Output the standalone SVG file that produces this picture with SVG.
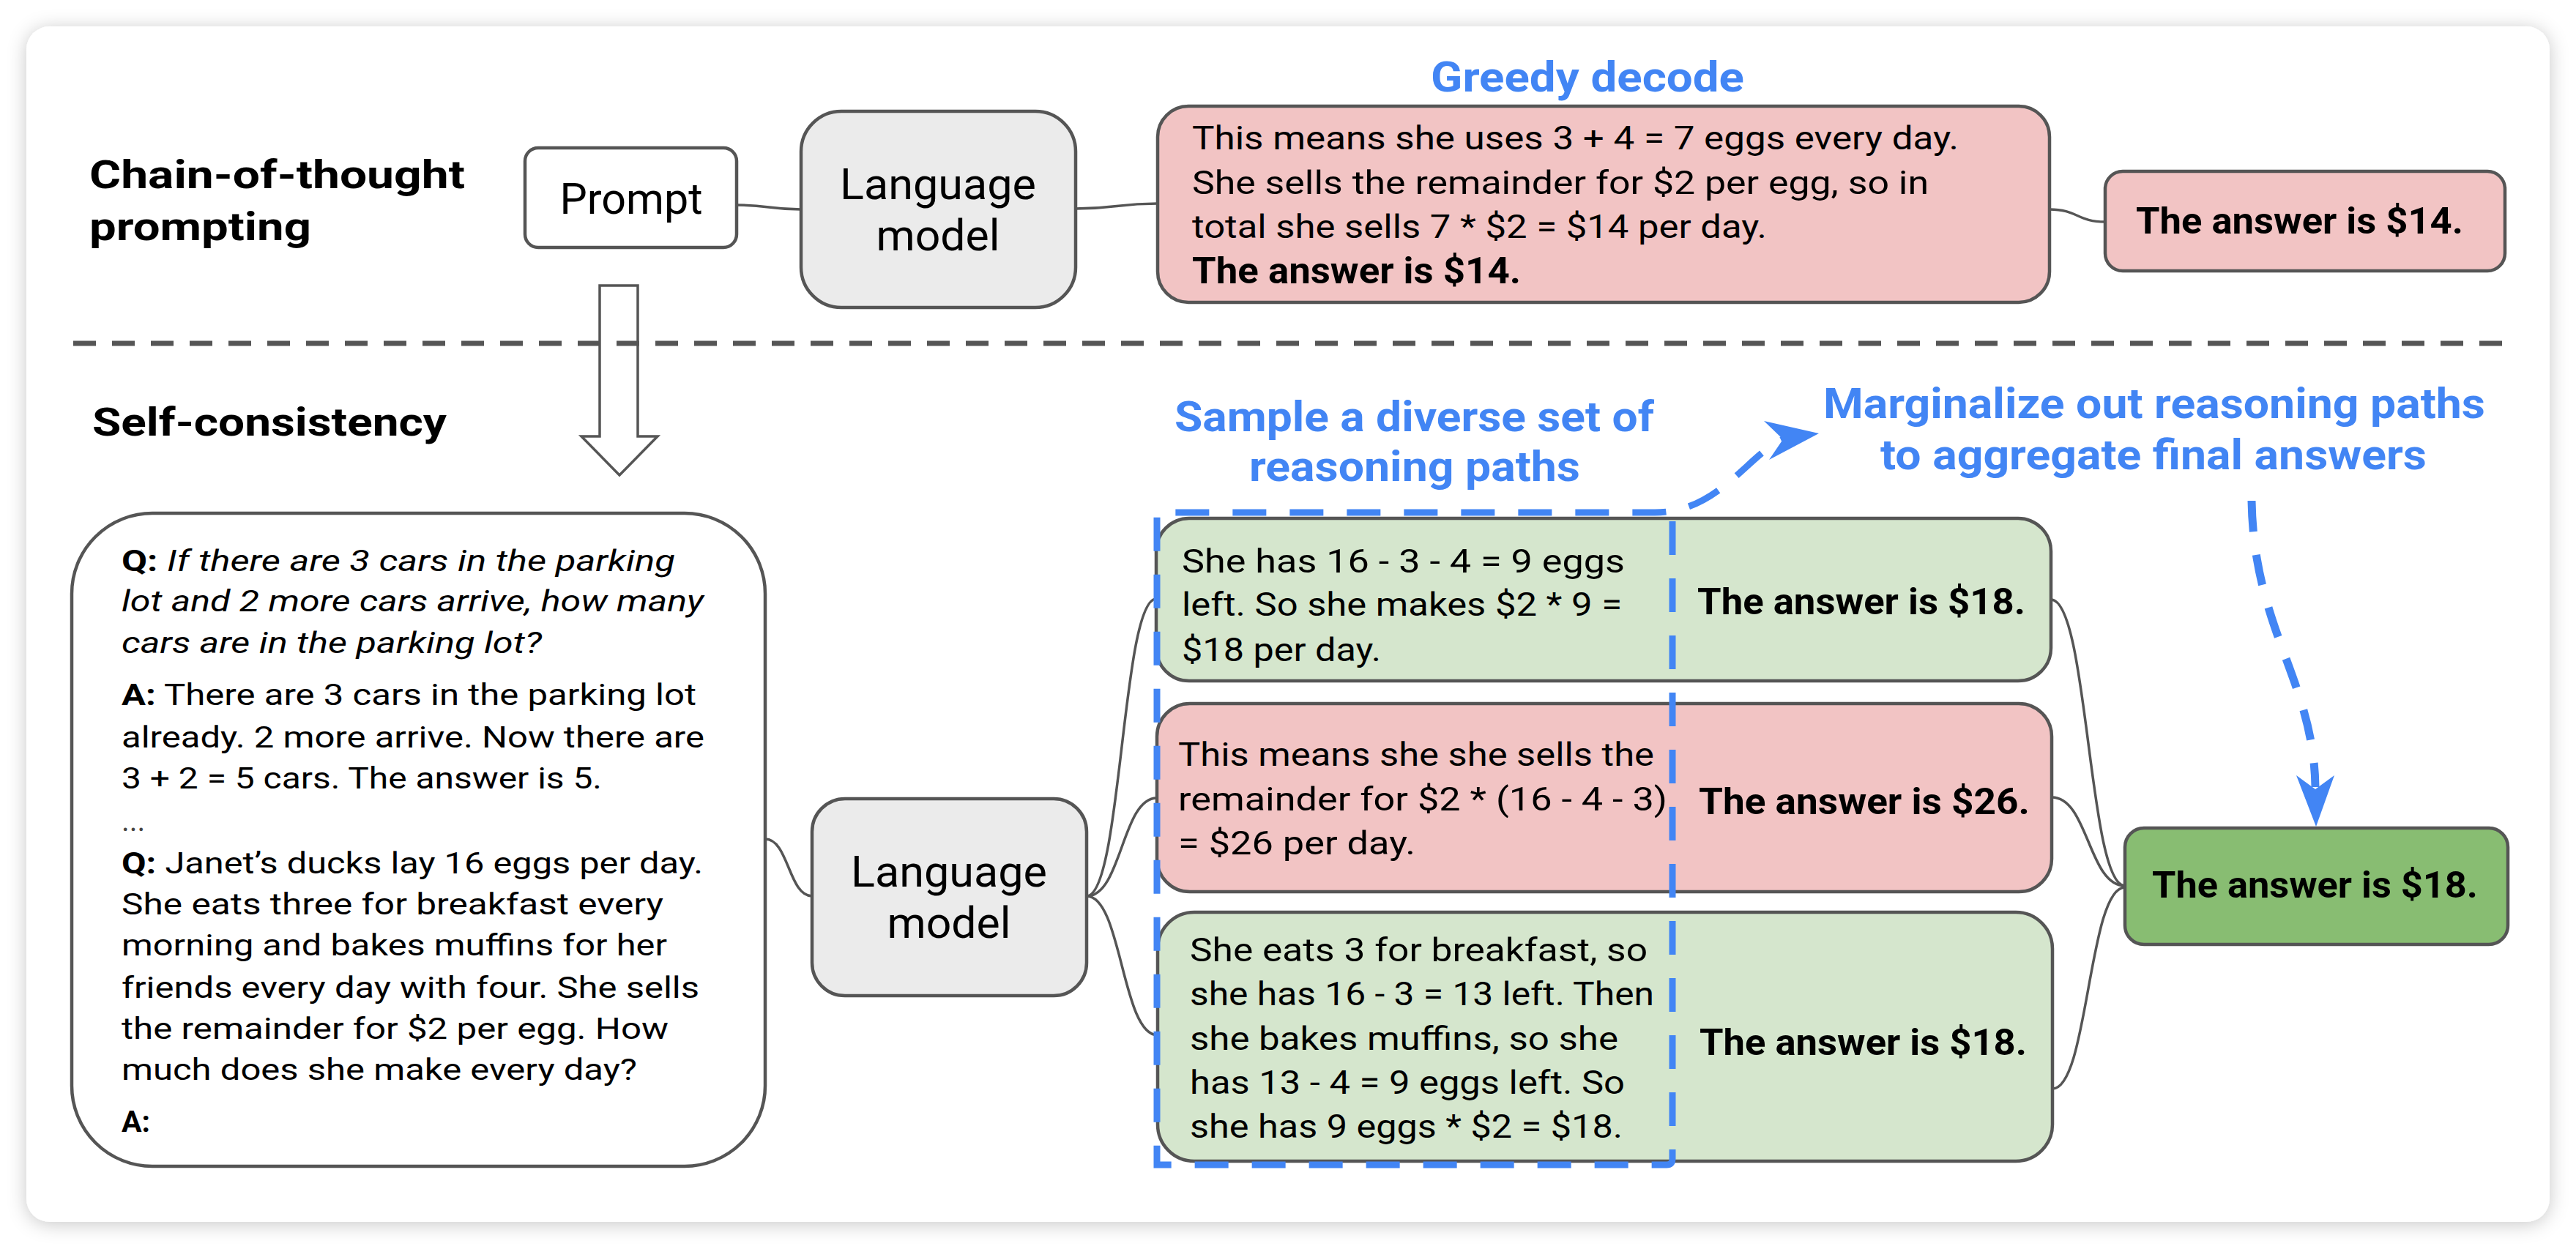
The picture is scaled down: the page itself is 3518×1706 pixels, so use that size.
<svg xmlns="http://www.w3.org/2000/svg" width="3518" height="1706" viewBox="0 0 3518 1706">
<defs>
<filter id="sh" x="-3%" y="-5%" width="106%" height="110%">
<feDropShadow dx="0" dy="3" stdDeviation="13" flood-color="#000" flood-opacity="0.22"/>
</filter>
<style>
text{font-family:Roboto,"Liberation Sans",sans-serif;fill:#000;}
.box{stroke:#555;stroke-width:4.5;}
.pink{fill:#F2C4C4;}
.green{fill:#D5E6CD;}
.gray{fill:#EBEBEB;}
.white{fill:#fff;}
.dgreen{fill:#88BD72;}
.t45{font-size:45px;}
.t41{font-size:41px;}
.ans{font-size:50px;font-weight:700;}
.b{font-weight:700;}
.i{font-style:italic;}
.head{font-size:53px;font-weight:700;}
.blue{font-size:57px;font-weight:700;fill:#4285F4;}
.lm{font-size:59px;text-anchor:middle;}
.conn{fill:none;stroke:#555;stroke-width:3.5;}
.bdash{fill:none;stroke:#4285F4;stroke-width:9;stroke-dasharray:46 32;}
.bhead{fill:#4285F4;}
</style>
</defs>
<rect x="0" y="0" width="3518" height="1706" fill="#fff"/>
<rect x="36" y="36" width="3446" height="1633" rx="32" fill="#fff" filter="url(#sh)"/>

<g id="titles">
<text class="head" x="122" y="257" textLength="513" lengthAdjust="spacingAndGlyphs">Chain-of-thought</text>
<text class="head" x="122" y="328" textLength="303" lengthAdjust="spacingAndGlyphs">prompting</text>
<text class="head" x="126" y="595" textLength="484" lengthAdjust="spacingAndGlyphs">Self-consistency</text>
</g>

<g id="big-arrow">
<polygon points="819,390 871,390 871,596 898,596 846,649 794,596 819,596" fill="#fff" stroke="#555" stroke-width="3.5" stroke-linejoin="miter"/>
</g>

<g id="separator">
<line x1="100" y1="469" x2="3418" y2="469" stroke="#555" stroke-width="7" stroke-dasharray="31 22"/>
</g>

<g id="connectors">
<path class="conn" d="M1006,280 C1050,280 1050,286 1094,286"/>
<path class="conn" d="M1469,285 C1525,285 1525,278 1581,278"/>
<path class="conn" d="M2799,286 C2837,286 2837,303 2875,303"/>
<path class="conn" d="M1045,1146 C1077,1146 1077,1224 1109,1224"/>
<path class="conn" d="M1484,1224 C1532,1224 1532,818 1579,818"/>
<path class="conn" d="M1484,1224 C1532,1224 1532,1090 1580,1090"/>
<path class="conn" d="M1484,1224 C1532,1224 1532,1414 1581,1414"/>
<path class="conn" d="M2801,819 C2852,819 2852,1210 2902,1210"/>
<path class="conn" d="M2802,1089 C2852,1089 2852,1210 2902,1210"/>
<path class="conn" d="M2803,1487 C2852,1487 2852,1212 2902,1212"/>
</g>

<g id="prompt">
<rect class="box white" x="717" y="202" width="289" height="136" rx="18"/>
<text class="lm" x="862" y="292" textLength="195" lengthAdjust="spacingAndGlyphs">Prompt</text>
</g>

<g id="lm-top">
<rect class="box gray" x="1094" y="152" width="375" height="268" rx="55"/>
<text class="lm" x="1281" y="272" textLength="268" lengthAdjust="spacingAndGlyphs">Language</text>
<text class="lm" x="1281" y="342" textLength="169" lengthAdjust="spacingAndGlyphs">model</text>
</g>

<g id="greedy-label">
<text class="blue" x="1954" y="125" textLength="428" lengthAdjust="spacingAndGlyphs">Greedy decode</text>
</g>

<g id="greedy-path">
<rect class="box pink" x="1581" y="145" width="1218" height="268" rx="42"/>
<text class="t45" x="1628" y="204" textLength="1047" lengthAdjust="spacingAndGlyphs">This means she uses 3 + 4 = 7 eggs every day.</text>
<text class="t45" x="1628" y="265" textLength="1006" lengthAdjust="spacingAndGlyphs">She sells the remainder for $2 per egg, so in</text>
<text class="t45" x="1628" y="325" textLength="785" lengthAdjust="spacingAndGlyphs">total she sells 7 * $2 = $14 per day.</text>
<text class="ans" x="1628" y="387" textLength="449" lengthAdjust="spacingAndGlyphs">The answer is $14.</text>
</g>

<g id="greedy-answer">
<rect class="box pink" x="2875" y="234" width="546" height="136" rx="24"/>
<text class="ans" x="2917" y="319" textLength="447" lengthAdjust="spacingAndGlyphs">The answer is $14.</text>
</g>

<g id="question">
<rect class="box white" x="98" y="701" width="947" height="892" rx="110"/>
<text class="t41" x="166" y="780" textLength="756" lengthAdjust="spacingAndGlyphs"><tspan class="b">Q:</tspan> <tspan class="i">If there are 3 cars in the parking</tspan></text>
<text class="t41 i" x="166" y="835" textLength="795" lengthAdjust="spacingAndGlyphs">lot and 2 more cars arrive, how many</text>
<text class="t41 i" x="166" y="892" textLength="574" lengthAdjust="spacingAndGlyphs">cars are in the parking lot?</text>
<text class="t41" x="166" y="963" textLength="785" lengthAdjust="spacingAndGlyphs"><tspan class="b">A:</tspan> There are 3 cars in the parking lot</text>
<text class="t41" x="166" y="1021" textLength="796" lengthAdjust="spacingAndGlyphs">already. 2 more arrive. Now there are</text>
<text class="t41" x="166" y="1077" textLength="656" lengthAdjust="spacingAndGlyphs">3 + 2 = 5 cars. The answer is 5.</text>
<text class="t41" x="166" y="1135" style="fill:#444">...</text>
<text class="t41" x="166" y="1193" textLength="794" lengthAdjust="spacingAndGlyphs"><tspan class="b">Q:</tspan> Janet’s ducks lay 16 eggs per day.</text>
<text class="t41" x="166" y="1249" textLength="740" lengthAdjust="spacingAndGlyphs">She eats three for breakfast every</text>
<text class="t41" x="166" y="1305" textLength="745" lengthAdjust="spacingAndGlyphs">morning and bakes muffins for her</text>
<text class="t41" x="166" y="1363" textLength="789" lengthAdjust="spacingAndGlyphs">friends every day with four. She sells</text>
<text class="t41" x="166" y="1419" textLength="747" lengthAdjust="spacingAndGlyphs">the remainder for $2 per egg. How</text>
<text class="t41" x="166" y="1475" textLength="704" lengthAdjust="spacingAndGlyphs">much does she make every day?</text>
<text class="t41 b" x="166" y="1546">A:</text>
</g>

<g id="lm-bottom">
<rect class="box gray" x="1109" y="1091" width="375" height="269" rx="45"/>
<text class="lm" x="1296" y="1211" textLength="268" lengthAdjust="spacingAndGlyphs">Language</text>
<text class="lm" x="1296" y="1281" textLength="169" lengthAdjust="spacingAndGlyphs">model</text>
</g>

<g id="path-a">
<rect class="box green" x="1579" y="708" width="1222" height="222" rx="45"/>
<text class="t45" x="1614" y="782" textLength="605" lengthAdjust="spacingAndGlyphs">She has 16 - 3 - 4 = 9 eggs</text>
<text class="t45" x="1614" y="841" textLength="601" lengthAdjust="spacingAndGlyphs">left. So she makes $2 * 9 =</text>
<text class="t45" x="1614" y="903" textLength="272" lengthAdjust="spacingAndGlyphs">$18 per day.</text>
<text class="ans" x="2318" y="839" textLength="448" lengthAdjust="spacingAndGlyphs">The answer is $18.</text>
</g>

<g id="path-b">
<rect class="box pink" x="1580" y="961" width="1222" height="257" rx="45"/>
<text class="t45" x="1609" y="1046" textLength="650" lengthAdjust="spacingAndGlyphs">This means she she sells the</text>
<text class="t45" x="1609" y="1107" textLength="668" lengthAdjust="spacingAndGlyphs">remainder for $2 * (16 - 4 - 3)</text>
<text class="t45" x="1609" y="1167" textLength="324" lengthAdjust="spacingAndGlyphs">= $26 per day.</text>
<text class="ans" x="2320" y="1112" textLength="452" lengthAdjust="spacingAndGlyphs">The answer is $26.</text>
</g>

<g id="path-c">
<rect class="box green" x="1581" y="1246" width="1222" height="340" rx="50"/>
<text class="t45" x="1625" y="1313" textLength="625" lengthAdjust="spacingAndGlyphs">She eats 3 for breakfast, so</text>
<text class="t45" x="1625" y="1373" textLength="634" lengthAdjust="spacingAndGlyphs">she has 16 - 3 = 13 left. Then</text>
<text class="t45" x="1625" y="1434" textLength="585" lengthAdjust="spacingAndGlyphs">she bakes muffins, so she</text>
<text class="t45" x="1625" y="1494" textLength="594" lengthAdjust="spacingAndGlyphs">has 13 - 4 = 9 eggs left. So</text>
<text class="t45" x="1625" y="1554" textLength="591" lengthAdjust="spacingAndGlyphs">she has 9 eggs * $2 = $18.</text>
<text class="ans" x="2321" y="1441" textLength="447" lengthAdjust="spacingAndGlyphs">The answer is $18.</text>
</g>

<g id="final-answer">
<rect class="box dgreen" x="2902" y="1131" width="523" height="159" rx="26"/>
<text class="ans" x="2939" y="1226" textLength="445" lengthAdjust="spacingAndGlyphs">The answer is $18.</text>
</g>

<g id="sample-label">
<text class="blue" x="1604" y="589" textLength="655" lengthAdjust="spacingAndGlyphs">Sample a diverse set of</text>
<text class="blue" x="1706" y="657" textLength="452" lengthAdjust="spacingAndGlyphs">reasoning paths</text>
</g>

<g id="marginalize-label">
<text class="blue" x="2490" y="571" textLength="904" lengthAdjust="spacingAndGlyphs">Marginalize out reasoning paths</text>
<text class="blue" x="2568" y="641" textLength="746" lengthAdjust="spacingAndGlyphs">to aggregate final answers</text>
</g>

<g id="sample-box">
<path class="bdash" d="M2284,712 L2284,1583 Q2284,1591 2276,1591 L1580,1591 L1580,700 L2260,700 C2350,700 2390,615 2440,598"/>
<polygon class="bhead" points="2484,592 2409,575 2435,600 2416,628"/>
</g>

<g id="marginalize-arrow">
<path class="bdash" style="stroke-width:11;stroke-dasharray:42 32" d="M3075,684 C3078,860 3160,930 3162,1075"/>
<polygon class="bhead" points="3163,1129 3136,1059 3162,1078 3188,1059"/>
</g>
</svg>
